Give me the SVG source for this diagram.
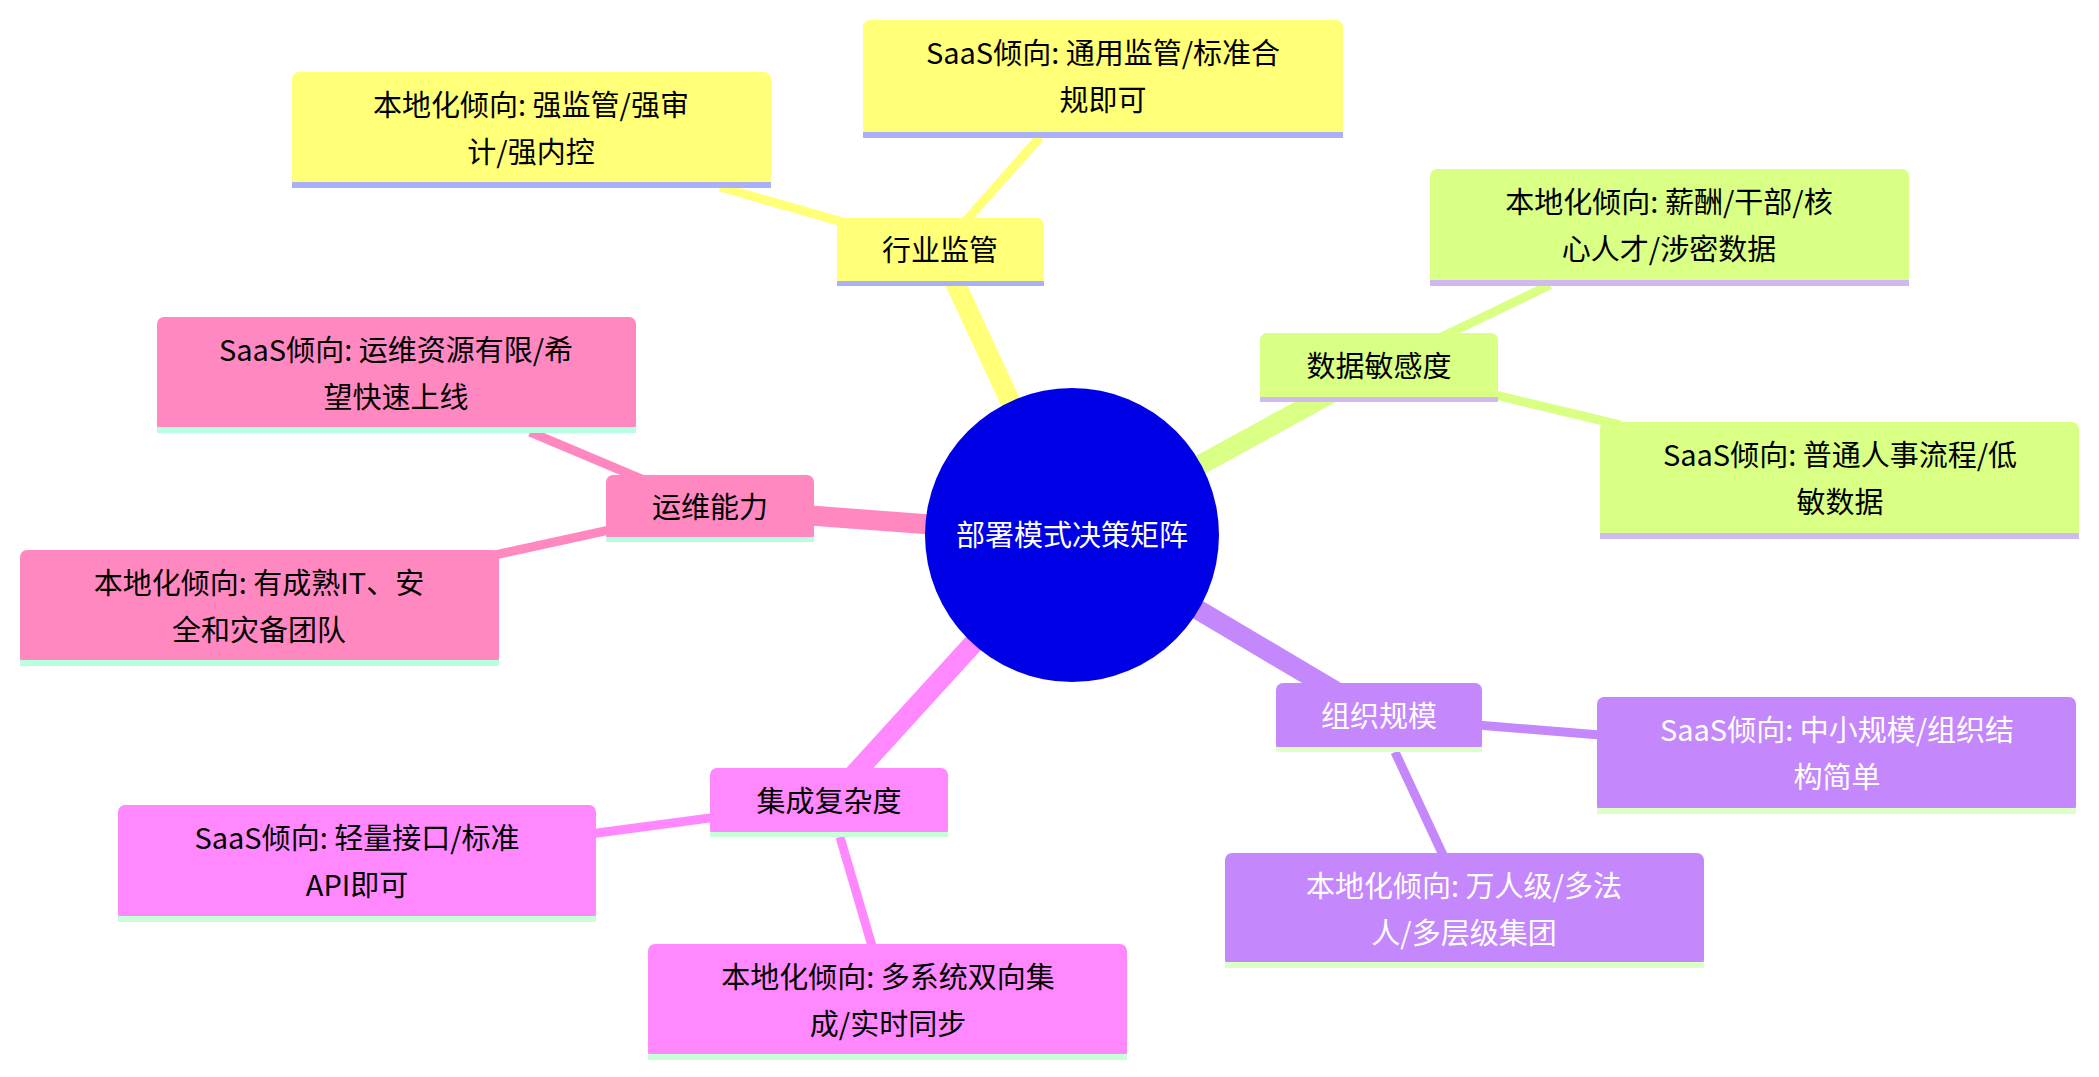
<svg xmlns="http://www.w3.org/2000/svg" width="2099" height="1077" viewBox="0 0 2099 1077">
<style>
text{font-family:"Noto Sans CJK SC","Noto Sans",sans-serif;font-size:29px;text-anchor:middle;fill:#000}
.w{fill:#fff}
.e{fill:none;stroke-linecap:butt}
</style>
<rect width="2099" height="1077" fill="#fff"/>
<g id="connectors">
<line class="e" x1="1072" y1="535" x2="940" y2="250" stroke="#ffff78" stroke-width="20"/>
<line class="e" x1="940" y1="250" x2="720" y2="187" stroke="#ffff78" stroke-width="9"/>
<line class="e" x1="940" y1="250" x2="1040" y2="137" stroke="#ffff78" stroke-width="9"/>
<line class="e" x1="1072" y1="535" x2="1379" y2="367" stroke="#d9ff85" stroke-width="20"/>
<line class="e" x1="1379" y1="367" x2="1550" y2="285" stroke="#d9ff85" stroke-width="9"/>
<line class="e" x1="1379" y1="367" x2="1620" y2="425" stroke="#d9ff85" stroke-width="9"/>
<line class="e" x1="1072" y1="535" x2="1379" y2="717" stroke="#c488fc" stroke-width="20"/>
<line class="e" x1="1379" y1="717" x2="1600" y2="735" stroke="#c488fc" stroke-width="9"/>
<line class="e" x1="1395" y1="752" x2="1443" y2="855" stroke="#c488fc" stroke-width="9"/>
<line class="e" x1="1072" y1="535" x2="829" y2="802" stroke="#ff88ff" stroke-width="20"/>
<line class="e" x1="829" y1="802" x2="590" y2="834" stroke="#ff88ff" stroke-width="9"/>
<line class="e" x1="840" y1="837" x2="872" y2="946" stroke="#ff88ff" stroke-width="9"/>
<line class="e" x1="1072" y1="535" x2="710" y2="508" stroke="#ff88c0" stroke-width="20"/>
<line class="e" x1="710" y1="508" x2="530" y2="432" stroke="#ff88c0" stroke-width="9"/>
<line class="e" x1="710" y1="508" x2="495" y2="555" stroke="#ff88c0" stroke-width="9"/>
</g>
<g id="root"><circle cx="1072" cy="535" r="147" fill="#0000e6"/><text class="w" x="1072" y="546">部署模式决策矩阵</text></g>
<g id="n1"><rect x="837" y="218" width="207" height="67" rx="7" fill="#ffff78"/><rect x="837" y="281" width="207" height="5" fill="#aab0f8"/><text x="940" y="261">行业监管</text></g>
<g id="n1a"><rect x="292" y="72" width="479" height="115" rx="7" fill="#ffff78"/><rect x="292" y="182" width="479" height="6" fill="#aab0f8"/><text x="531" y="116">本地化倾向: 强监管/强审</text><text x="531" y="163">计/强内控</text></g>
<g id="n1b"><rect x="863" y="20" width="480" height="117" rx="7" fill="#ffff78"/><rect x="863" y="132" width="480" height="6" fill="#aab0f8"/><text x="1103" y="64">SaaS倾向: 通用监管/标准合</text><text x="1103" y="111">规即可</text></g>
<g id="n2"><rect x="1260" y="333" width="238" height="69" rx="7" fill="#d9ff85"/><rect x="1260" y="397" width="238" height="5" fill="#d0b8f0"/><text x="1379" y="377">数据敏感度</text></g>
<g id="n2a"><rect x="1430" y="169" width="479" height="116" rx="7" fill="#d9ff85"/><rect x="1430" y="280" width="479" height="6" fill="#d0b8f0"/><text x="1669" y="213">本地化倾向: 薪酬/干部/核</text><text x="1669" y="260">心人才/涉密数据</text></g>
<g id="n2b"><rect x="1600" y="422" width="479" height="116" rx="7" fill="#d9ff85"/><rect x="1600" y="533" width="479" height="6" fill="#d0b8f0"/><text x="1840" y="466">SaaS倾向: 普通人事流程/低</text><text x="1840" y="513">敏数据</text></g>
<g id="n3"><rect x="1276" y="683" width="206" height="69" rx="7" fill="#c488fc"/><rect x="1276" y="747" width="206" height="5" fill="#ddffc8"/><text class="w" x="1379" y="727">组织规模</text></g>
<g id="n3a"><rect x="1597" y="697" width="479" height="116" rx="7" fill="#c488fc"/><rect x="1597" y="808" width="479" height="6" fill="#ddffc8"/><text class="w" x="1837" y="741">SaaS倾向: 中小规模/组织结</text><text class="w" x="1837" y="788">构简单</text></g>
<g id="n3b"><rect x="1225" y="853" width="479" height="114" rx="7" fill="#c488fc"/><rect x="1225" y="962" width="479" height="6" fill="#ddffc8"/><text class="w" x="1464" y="897">本地化倾向: 万人级/多法</text><text class="w" x="1464" y="944">人/多层级集团</text></g>
<g id="n4"><rect x="710" y="768" width="238" height="69" rx="7" fill="#ff88ff"/><rect x="710" y="832" width="238" height="5" fill="#c8ffd8"/><text x="829" y="812">集成复杂度</text></g>
<g id="n4a"><rect x="118" y="805" width="478" height="116" rx="7" fill="#ff88ff"/><rect x="118" y="916" width="478" height="6" fill="#c8ffd8"/><text x="357" y="849">SaaS倾向: 轻量接口/标准</text><text x="357" y="896">API即可</text></g>
<g id="n4b"><rect x="648" y="944" width="479" height="115" rx="7" fill="#ff88ff"/><rect x="648" y="1054" width="479" height="6" fill="#c8ffd8"/><text x="888" y="988">本地化倾向: 多系统双向集</text><text x="888" y="1035">成/实时同步</text></g>
<g id="n5"><rect x="606" y="475" width="208" height="67" rx="7" fill="#ff88c0"/><rect x="606" y="537" width="208" height="5" fill="#b8ffe0"/><text x="710" y="518">运维能力</text></g>
<g id="n5a"><rect x="157" y="317" width="479" height="115" rx="7" fill="#ff88c0"/><rect x="157" y="427" width="479" height="6" fill="#b8ffe0"/><text x="396" y="361">SaaS倾向: 运维资源有限/希</text><text x="396" y="408">望快速上线</text></g>
<g id="n5b"><rect x="20" y="550" width="479" height="115" rx="7" fill="#ff88c0"/><rect x="20" y="660" width="479" height="6" fill="#b8ffe0"/><text x="259" y="594">本地化倾向: 有成熟IT、安</text><text x="259" y="641">全和灾备团队</text></g>
</svg>
